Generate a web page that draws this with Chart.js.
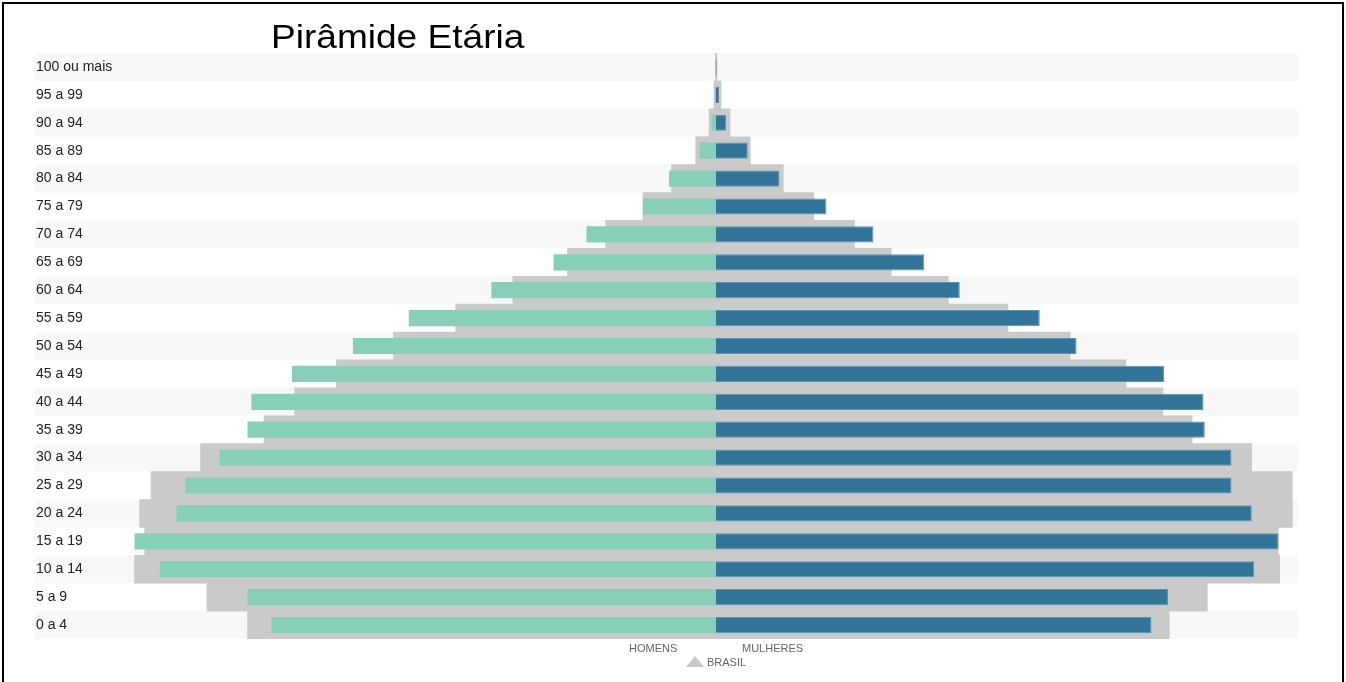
<!DOCTYPE html>
<html>
<head>
<meta charset="utf-8">
<title>Pirâmide Etária</title>
<script src="https://cdn.jsdelivr.net/npm/chart.js@4"></script>
<style>
  body { margin: 0; background: #fff; font-family: "Liberation Sans", Arial, sans-serif; }
  #wrap { position: relative; width: 1346px; height: 682px; overflow: hidden; }
  #frame { position: absolute; left: 2px; top: 2px; width: 1338px; height: 720px; border: 2px solid #000; }
  #piramide { position: absolute; left: 0; top: 0; }
  .titulo { position: absolute; left: 271px; top: 19px; font-size: 34px; line-height: 34px; color: #000;
            transform: scaleX(1.09); transform-origin: left top; white-space: nowrap; }
  .leg { position: absolute; font-size: 11px; line-height: 11px; color: #666; white-space: nowrap; }
  .tri { position: absolute; left: 686px; top: 656px; width: 0; height: 0;
         border-left: 9px solid transparent; border-right: 9px solid transparent; border-bottom: 11px solid #c8c8c8; }
</style>
</head>
<body>
<div id="wrap">
  <canvas id="piramide" width="1346" height="682"></canvas>
  <div class="titulo">Pirâmide Etária</div>
  <div class="leg" style="left:629px; top:643px;">HOMENS</div>
  <div class="leg" style="left:742px; top:643px;">MULHERES</div>
  <div class="tri"></div>
  <div class="leg" style="left:707px; top:657px;">BRASIL</div>
  <div id="frame"></div>
</div>
<script>
// faixas etarias, de cima para baixo
const faixas = ['100 ou mais', '95 a 99', '90 a 94', '85 a 89', '80 a 84', '75 a 79', '70 a 74',
  '65 a 69', '60 a 64', '55 a 59', '50 a 54', '45 a 49', '40 a 44', '35 a 39', '30 a 34',
  '25 a 29', '20 a 24', '15 a 19', '10 a 14', '5 a 9', '0 a 4'];

// % da populacao (municipio)
const homens = [0.005, 0.01, 0.035, 0.13, 0.37, 0.575, 1.02, 1.28, 1.77, 2.42, 2.86, 3.34, 3.66, 3.69, 3.91,
  4.18, 4.25, 4.58, 4.38, 3.69, 3.5];
const mulheres = [0.005, 0.024, 0.08, 0.25, 0.5, 0.87, 1.24, 1.64, 1.92, 2.55, 2.84, 3.53, 3.84, 3.85, 4.06,
  4.06, 4.22, 4.43, 4.24, 3.56, 3.43];

// % da populacao (Brasil)
const brasilHomens = [0.005, 0.016, 0.055, 0.16, 0.35, 0.575, 0.87, 1.17, 1.6, 2.05, 2.54, 2.99, 3.32, 3.56, 4.06,
  4.45, 4.54, 4.5, 4.58, 4.01, 3.69];
const brasilMulheres = [0.008, 0.04, 0.11, 0.27, 0.53, 0.77, 1.09, 1.38, 1.83, 2.3, 2.79, 3.23, 3.52, 3.75, 4.22,
  4.54, 4.54, 4.43, 4.44, 3.87, 3.57];

const neg = arr => arr.map(v => -v);

// fundo listrado das linhas (antes dos eixos, pra nao cobrir os rotulos)
const listras = {
  id: 'listras',
  beforeDraw(chart) {
    const ctx = chart.ctx;
    const y = chart.scales.y;
    const area = chart.chartArea;
    const passo = (area.bottom - area.top) / faixas.length;
    ctx.save();
    ctx.fillStyle = '#f8f8f8';
    faixas.forEach((f, i) => {
      if (i % 2 !== 0) return;
      const yc = y.getPixelForValue(i);
      ctx.fillRect(y.left - 1, yc - passo / 2, area.right - 2 - (y.left - 1), passo);
    });
    ctx.restore();
  }
};

const ctx = document.getElementById('piramide').getContext('2d');
new Chart(ctx, {
  type: 'bar',
  data: {
    labels: faixas,
    datasets: [
      {
        label: 'Homens',
        data: neg(homens),
        backgroundColor: '#88cfb9',
        borderWidth: 0,
        grouped: false,
        barPercentage: 0.58,
        categoryPercentage: 1
      },
      {
        label: 'Mulheres',
        data: mulheres,
        backgroundColor: '#337599',
        borderColor: '#5b91b0',
        borderWidth: 1,
        borderSkipped: 'start',
        grouped: false,
        barPercentage: 0.58,
        categoryPercentage: 1
      },
      {
        label: 'Brasil homens',
        data: neg(brasilHomens),
        backgroundColor: '#cacaca',
        borderWidth: 0,
        grouped: false,
        barPercentage: 1,
        categoryPercentage: 1
      },
      {
        label: 'Brasil mulheres',
        data: brasilMulheres,
        backgroundColor: '#cacaca',
        borderWidth: 0,
        grouped: false,
        barPercentage: 1,
        categoryPercentage: 1
      }
    ]
  },
  options: {
    indexAxis: 'y',
    responsive: false,
    animation: false,
    layout: { padding: { left: 36, right: 46, top: 53, bottom: 43 } },
    plugins: {
      legend: { display: false },
      tooltip: { enabled: false },
      title: { display: false }
    },
    scales: {
      x: {
        display: false,
        min: -4.6,
        max: 4.6
      },
      y: {
        grid: { display: false },
        border: { display: false },
        afterFit: scale => { scale.width = 96; },
        ticks: {
          autoSkip: false,
          crossAlign: 'far',
          padding: 0,
          color: '#222',
          font: { family: '"Liberation Sans", Arial, sans-serif', size: 14 }
        }
      }
    }
  },
  plugins: [listras]
});
</script>
</body>
</html>
